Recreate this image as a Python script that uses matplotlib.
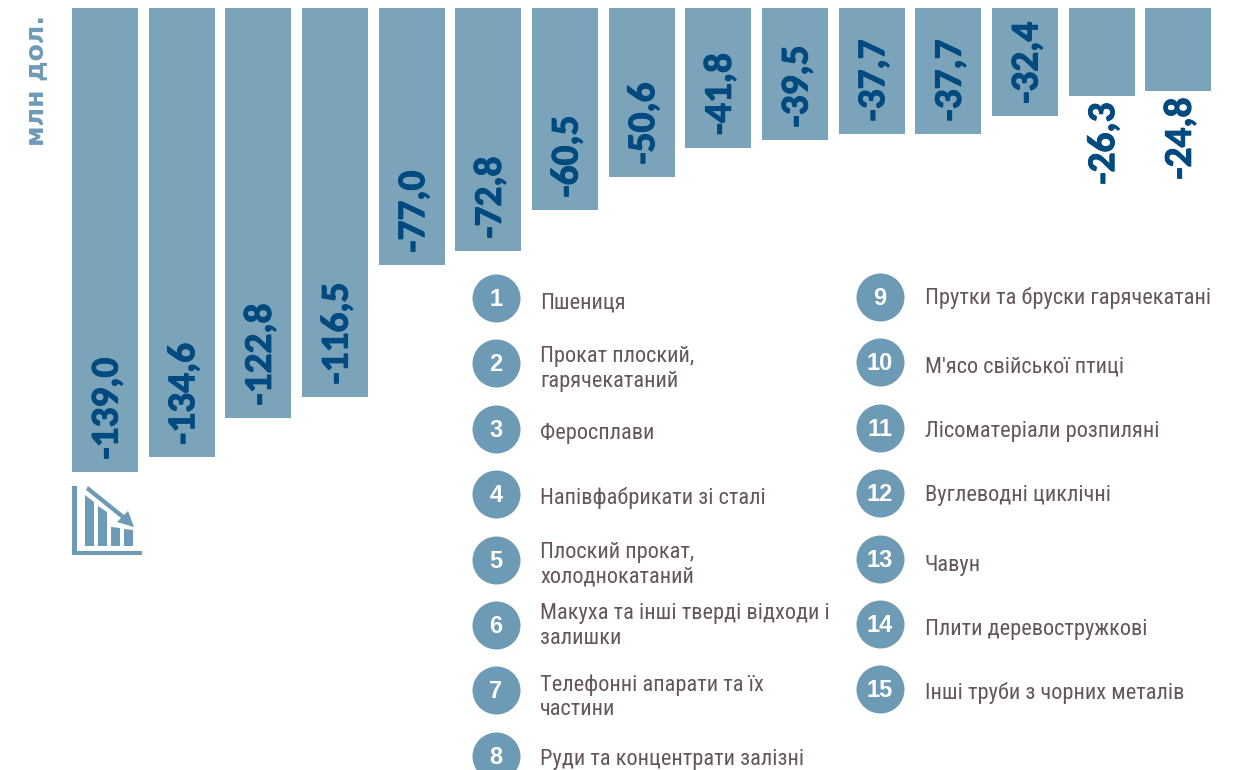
"""Top 15 products by decline, bars hanging from the top with a numbered key."""
import matplotlib
matplotlib.use("Agg")
import matplotlib.pyplot as plt
import matplotlib.patheffects as pe
from matplotlib.patches import Polygon, Rectangle

values = [-139.0, -134.6, -122.8, -116.5, -77.0, -72.8, -60.5, -50.6, -41.8, -39.5, -37.7, -37.7, -32.4, -26.3, -24.8]
value_labels = ["-139,0", "-134,6", "-122,8", "-116,5", "-77,0", "-72,8", "-60,5", "-50,6", "-41,8", "-39,5", "-37,7", "-37,7", "-32,4", "-26,3", "-24,8"]
names_left = [
    "Пшениця",
    "Прокат плоский,\nгарячекатаний",
    "Феросплави",
    "Напівфабрикати зі сталі",
    "Плоский прокат,\nхолоднокатаний",
    "Макуха та інші тверді відходи і\nзалишки",
    "Телефонні апарати та їх\nчастини",
    "Руди та концентрати залізні",
]
names_right = [
    "Прутки та бруски гарячекатані",
    "М'ясо свійської птиці",
    "Лісоматеріали розпиляні",
    "Вуглеводні циклічні",
    "Чавун",
    "Плити деревостружкові",
    "Інші труби з чорних металів",
]
unit_label = "млн дол."

BAR = "#7ba3ba"
BADGE = "#6d9ab5"
DARK = "#004a80"
TEXT = "#65565a"

narrow = ["Roboto Condensed", "Liberation Sans"]
label_font = ["Carlito", "Liberation Sans"]
heavier = [pe.withStroke(linewidth=0.7, foreground=DARK)]

fig = plt.figure(figsize=(12.6, 7.7), dpi=100)

# bars: axes runs from y=8px down to the bottom edge, 3.338 px per unit
ax = fig.add_axes([0, 0, 1, 762 / 770])
ax.set_xlim(-105 / 76.66, (1260 - 105) / 76.66)
ax.set_ylim(-762 / 3.338, 0)
ax.axis("off")
ax.bar(range(len(values)), values, width=66 / 76.66, color=BAR)

for i, (v, lab) in enumerate(zip(values, value_labels)):
    if v > -30:
        ax.annotate(lab, (i, v), xytext=(1.5, -5), textcoords="offset points", rotation=90,
                    ha="center", va="top", fontsize=28.3, fontweight="bold", color=DARK,
                    family=label_font, path_effects=heavier)
    else:
        ax.annotate(lab, (i, v), xytext=(1.5, 9), textcoords="offset points", rotation=90,
                    ha="center", va="bottom", fontsize=28.3, fontweight="bold", color=DARK,
                    family=label_font, path_effects=heavier)

# overlay in pixel coordinates for the key, the unit label and the icon
over = fig.add_axes([0, 0, 1, 1])
over.set_xlim(0, 1260)
over.set_ylim(770, 0)
over.axis("off")

over.text(36, 80, unit_label, rotation=90, ha="center", va="center", fontsize=18.2,
          fontweight="bold", color=BADGE, family="DejaVu Sans")


def draw_key(names, first_number, x_badge, x_text, y_first, text_ys):
    for k, name in enumerate(names):
        y = y_first + 65.4 * k
        over.scatter([x_badge], [y], s=1194, color=BADGE, linewidths=0, clip_on=False)
        over.text(x_badge, y + 1.5, str(first_number + k), ha="center", va="center", color="white",
                  fontsize=17, fontweight="bold", family="Liberation Sans")
        over.text(x_text, text_ys[k], name, ha="left", va="center", color=TEXT, fontsize=16.1,
                  family=narrow, linespacing=1.19)


draw_key(names_left, 1, 496, 540, 298, [303, 369, 434, 498, 565, 626, 697, 760])
draw_key(names_right, 9, 880, 925, 297, [298, 367, 432, 496, 565, 629, 693])

# small falling-bars icon
for r in [(72, 486, 5, 69), (72, 551, 70, 4)]:
    over.add_patch(Rectangle((r[0], r[1]), r[2], r[3], color=BADGE, lw=0))
for pts in [[(85, 495), (94, 502), (94, 546), (85, 546)],
            [(98, 506), (107, 512), (107, 546), (98, 546)],
            [(111, 527), (120, 528), (120, 546), (111, 546)],
            [(124, 529), (133, 530), (133, 546), (124, 546)]]:
    over.add_patch(Polygon(pts, closed=True, color=BADGE, lw=0))
over.add_patch(Polygon([(88, 486), (124, 515), (128, 511), (134, 527), (117, 522), (121, 518), (86, 490)],
                       closed=True, color=BADGE, lw=0))

fig.savefig("out.png", dpi=100)
